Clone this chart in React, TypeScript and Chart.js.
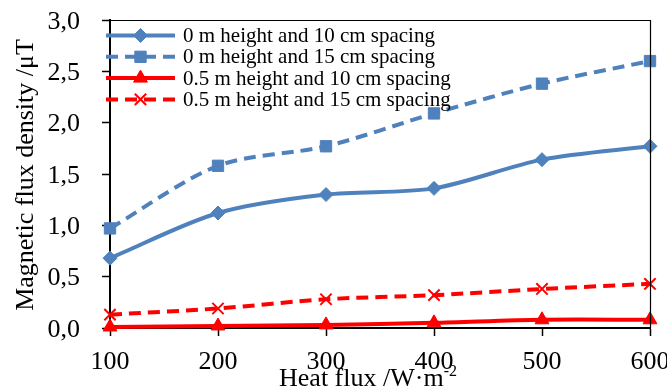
import React, { useEffect, useRef } from "react";
import { Chart, registerables } from "chart.js";
import { drawPoint } from "chart.js/helpers";

Chart.register(...registerables);

const heatFlux = [100, 200, 300, 400, 500, 600];
const h0s10 = [0.68, 1.12, 1.3, 1.36, 1.64, 1.77];
const h0s15 = [0.97, 1.58, 1.77, 2.09, 2.38, 2.6];
const h05s10 = [0.01, 0.02, 0.03, 0.05, 0.08, 0.08];
const h05s15 = [0.13, 0.19, 0.28, 0.32, 0.38, 0.43];
const seriesLabels = [
  "0 m height and 10 cm spacing",
  "0 m height and 15 cm spacing",
  "0.5 m height and 10 cm spacing",
  "0.5 m height and 15 cm spacing",
];
const xTitle = "Heat flux /W\u00b7m";
const xTitleSup = "-2";
const yTitle = "Magnetic flux density /\u03bcT";

const BLUE = "#4f81bd";
const RED = "#ff0000";
const FONT = "'Liberation Serif', 'Times New Roman', serif";

const fmtY = (v: number) => Number(v).toFixed(1).replace(".", ",");

const legendPlugin = {
  id: "customLegend",
  afterDraw(chart: any) {
    const { ctx, chartArea } = chart;
    ctx.save();
    // top and right thin border
    ctx.strokeStyle = "#000";
    ctx.lineWidth = 1.2;
    ctx.beginPath();
    ctx.moveTo(chartArea.left, chartArea.top + 0.5);
    ctx.lineTo(chartArea.right + 0.5, chartArea.top + 0.5);
    ctx.lineTo(chartArea.right + 0.5, chartArea.bottom);
    ctx.stroke();

    // tick labels from the scales
    const xs = chart.scales.x;
    const ys = chart.scales.y;
    ctx.fillStyle = "#000";
    ctx.font = `26px ${FONT}`;
    ctx.textAlign = "right";
    ctx.textBaseline = "alphabetic";
    ys.ticks.forEach((t: any) => {
      const py = ys.getPixelForValue(t.value);
      ctx.fillText(fmtY(t.value), 80, py + 8.5);
    });
    ctx.textAlign = "center";
    xs.ticks.forEach((t: any) => {
      const px = xs.getPixelForValue(t.value);
      ctx.fillText(String(t.value), px, 369);
    });

    chart.data.datasets.forEach((ds: any, i: number) => {
      const y = chartArea.top + 15.5 + i * 21.3;
      const x0 = chartArea.left - 4;
      const x1 = chartArea.left + 65;
      ctx.save();
      ctx.strokeStyle = ds.borderColor;
      ctx.lineWidth = ds.borderWidth;
      ctx.setLineDash(ds.borderDash || []);
      ctx.beginPath();
      ctx.moveTo(x0, y);
      ctx.lineTo(x1, y);
      ctx.stroke();
      ctx.restore();
      ctx.save();
      ctx.fillStyle = ds.pointBackgroundColor;
      ctx.strokeStyle = ds.pointBorderColor;
      ctx.lineWidth = ds.pointBorderWidth;
      drawPoint(ctx, { pointStyle: ds.pointStyle, radius: ds.pointRadius, rotation: 0, borderWidth: ds.pointBorderWidth }, (x0 + x1) / 2, y);
      ctx.restore();
      ctx.fillStyle = "#000";
      ctx.font = `21px ${FONT}`;
      ctx.textBaseline = "middle";
      ctx.textAlign = "left";
      ctx.fillText(ds.label, chartArea.left + 73, y + 1);
    });

    // axis titles
    ctx.fillStyle = "#000";
    ctx.font = `26px ${FONT}`;
    ctx.textBaseline = "alphabetic";
    const mainW = ctx.measureText(xTitle).width;
    ctx.font = `16px ${FONT}`;
    const supW = ctx.measureText(xTitleSup).width;
    const total = mainW + supW;
    const cx = 368;
    const bx = cx - total / 2;
    ctx.font = `26px ${FONT}`;
    ctx.textAlign = "left";
    ctx.fillText(xTitle, bx, 386);
    ctx.font = `16px ${FONT}`;
    ctx.fillText(xTitleSup, bx + mainW, 376);

    ctx.save();
    ctx.translate(33, 175);
    ctx.rotate(-Math.PI / 2);
    ctx.font = `26px ${FONT}`;
    ctx.textAlign = "center";
    ctx.textBaseline = "alphabetic";
    ctx.fillText(yTitle, 0, 0);
    ctx.restore();
    ctx.restore();
  },
};

export default function App() {
  const ref = useRef<HTMLCanvasElement>(null);
  useEffect(() => {
    document.body.style.margin = "0";
    const canvas = ref.current!;
    const mk = (data: number[]) => heatFlux.map((x, i) => ({ x, y: data[i] }));
    const chart = new Chart(canvas, {
      type: "line",
      data: {
        datasets: [
          {
            label: seriesLabels[0],
            data: mk(h0s10),
            borderColor: BLUE,
            backgroundColor: BLUE,
            pointBackgroundColor: BLUE,
            pointBorderColor: BLUE,
            pointBorderWidth: 1,
            borderWidth: 4,
            pointStyle: "rectRot",
            pointRadius: 7,
            tension: 0.3,
          },
          {
            label: seriesLabels[1],
            data: mk(h0s15),
            borderColor: BLUE,
            backgroundColor: BLUE,
            pointBackgroundColor: BLUE,
            pointBorderColor: BLUE,
            pointBorderWidth: 1,
            borderWidth: 4,
            borderDash: [12, 7],
            pointStyle: "rect",
            pointRadius: 8,
            tension: 0.3,
          },
          {
            label: seriesLabels[2],
            data: mk(h05s10),
            borderColor: RED,
            backgroundColor: RED,
            pointBackgroundColor: RED,
            pointBorderColor: RED,
            pointBorderWidth: 1,
            borderWidth: 4,
            pointStyle: "triangle",
            pointRadius: 8,
            tension: 0.3,
          },
          {
            label: seriesLabels[3],
            data: mk(h05s15),
            borderColor: RED,
            backgroundColor: RED,
            pointBackgroundColor: RED,
            pointBorderColor: RED,
            pointBorderWidth: 2,
            borderWidth: 4,
            borderDash: [12, 7],
            pointStyle: "crossRot",
            pointRadius: 8,
            tension: 0.3,
          },
        ] as any,
      },
      options: {
        animation: false,
        responsive: false,
        devicePixelRatio: 1,
        clip: false as any,
        layout: { padding: { left: 0, top: 20, right: 17, bottom: 0 } },
        plugins: { legend: { display: false }, tooltip: { enabled: false } },
        scales: {
          x: {
            type: "linear",
            min: 100,
            max: 600,
            afterFit: (s: any) => {
              s.height = 61;
              s.paddingLeft = 0;
              s.paddingRight = 0;
              s.paddingTop = 0;
              s.paddingBottom = 0;
            },
            ticks: {
              stepSize: 100,
              color: "rgba(0,0,0,0)",
              font: { family: FONT, size: 26 },
              padding: 8,
              maxRotation: 0,
            },
            grid: {
              drawOnChartArea: false,
              drawTicks: true,
              tickLength: 8,
              tickColor: "#000",
              tickWidth: 1.5,
            },
            border: { color: "#000", width: 2 },
          },
          y: {
            type: "linear",
            min: 0,
            max: 3,
            afterFit: (s: any) => {
              s.width = 110;
              s.paddingLeft = 0;
              s.paddingRight = 0;
              s.paddingTop = 0;
              s.paddingBottom = 0;
            },
            ticks: {
              stepSize: 0.5,
              color: "rgba(0,0,0,0)",
              font: { family: FONT, size: 26 },
              padding: 22,
              callback: (v: any) => fmtY(v),
            },
            grid: {
              drawOnChartArea: false,
              drawTicks: true,
              tickLength: 8,
              tickColor: "#000",
              tickWidth: 1.5,
            },
            border: { color: "#000", width: 2 },
          },
        },
      } as any,
      plugins: [legendPlugin],
    });
    return () => chart.destroy();
  }, []);
  return (
    <div style={{ width: 667, height: 389, background: "#fff" }}>
      <canvas ref={ref} width={667} height={389} style={{ display: "block" }} />
    </div>
  );
}
